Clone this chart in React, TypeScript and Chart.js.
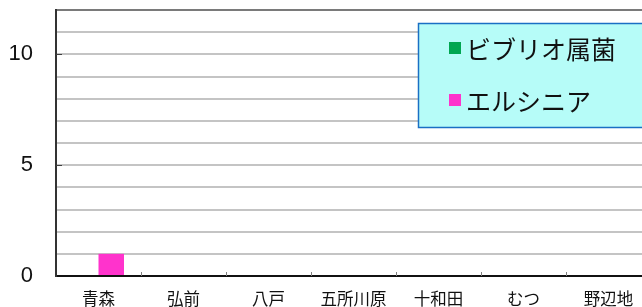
import React, { useEffect, useRef } from "react";
import { Chart, registerables } from "chart.js";

Chart.register(...registerables);

const categories = ["青森", "弘前", "八戸", "五所川原", "十和田", "むつ", "野辺地"];
const vibrio = [0, 0, 0, 0, 0, 0, 0];
const yersinia = [1, 0, 0, 0, 0, 0, 0];
const seriesNames = ["ビブリオ属菌", "エルシニア"];
const seriesColors = ["#00a651", "#ff33cc"];
const yMax = 12;
const yLabelStep = 5;

const JP_FONT = '"Noto Sans CJK JP", "Noto Sans", sans-serif';
const NUM_FONT = '"Liberation Sans", Arial, sans-serif';

const framePlugin = {
  id: "framePlugin",
  afterDatasetsDraw(chart: any) {
    const { ctx, chartArea, scales } = chart;
    const x = scales.x;
    const y = scales.y;
    ctx.save();
    ctx.strokeStyle = "#808080";
    ctx.lineWidth = 1;
    for (let i = 1; i < categories.length; i++) {
      const px = Math.round((x.getPixelForValue(i - 1) + x.getPixelForValue(i)) / 2) + 0.5;
      ctx.beginPath();
      ctx.moveTo(px, chartArea.bottom);
      ctx.lineTo(px, chartArea.bottom - 4);
      ctx.stroke();
    }
    ctx.strokeStyle = "#404040";
    ctx.lineWidth = 1;
    for (let v = yLabelStep; v < yMax; v += yLabelStep) {
      const py = Math.round(y.getPixelForValue(v)) + 0.5;
      ctx.beginPath();
      ctx.moveTo(chartArea.left, py);
      ctx.lineTo(chartArea.left + 6, py);
      ctx.stroke();
    }
    ctx.restore();
  },
  afterDraw(chart: any) {
    const { ctx } = chart;
    const ds = chart.data.datasets;
    ctx.save();
    const bx = 418.5, by = 23.5, bw = 300, bh = 104;
    ctx.fillStyle = "#b6fcf8";
    ctx.fillRect(bx, by, bw, bh);
    ctx.strokeStyle = "#1a6fc4";
    ctx.lineWidth = 1.5;
    ctx.strokeRect(bx, by, bw, bh);
    const rows = [48, 100];
    ds.forEach((d: any, i: number) => {
      const cy = rows[i];
      ctx.fillStyle = d.backgroundColor;
      ctx.fillRect(449, cy - 6, 12, 12);
      ctx.fillStyle = "#111";
      ctx.font = `25px ${JP_FONT}`;
      ctx.textBaseline = "middle";
      ctx.textAlign = "left";
      ctx.fillText(d.label, 466, cy + 1);
    });
    ctx.restore();
  },
};

export default function App() {
  const ref = useRef<HTMLCanvasElement>(null);
  useEffect(() => {
    if (!ref.current) return;
    const chart = new Chart(ref.current, {
      type: "bar",
      data: {
        labels: categories,
        datasets: [
          { label: seriesNames[0], data: vibrio, backgroundColor: seriesColors[0], borderWidth: 0 },
          { label: seriesNames[1], data: yersinia, backgroundColor: seriesColors[1], borderWidth: 0 },
        ],
      },
      options: {
        responsive: false,
        animation: false,
        devicePixelRatio: 1,
        layout: { padding: { top: 10, right: 49, left: 0, bottom: 0 } },
        plugins: { legend: { display: false }, tooltip: { enabled: false } },
        datasets: { bar: { categoryPercentage: 0.6, barPercentage: 1 } },
        scales: {
          x: {
            grid: { display: false, drawTicks: false },
            border: { display: true, color: "#111", width: 2 },
            ticks: {
              color: "#111",
              font: { family: JP_FONT, size: 16.5 },
              padding: 13,
              maxRotation: 0,
              autoSkip: false,
            },
            afterFit(scale: any) {
              scale.height = 31;
              scale.paddingLeft = 0;
              scale.paddingRight = 0;
            },
          },
          y: {
            min: 0,
            max: yMax,
            grid: {
              drawTicks: false,
              lineWidth: 2,
              color: (c: any) => (c.tick && c.tick.value === yMax ? "#7a7a7a" : "#c4c4c4"),
            },
            border: { display: true, color: "#333", width: 2 },
            ticks: {
              stepSize: 1,
              autoSkip: false,
              padding: 23,
              color: "#111",
              font: { family: NUM_FONT, size: 22 },
              callback: (v: any) => (Number(v) % yLabelStep === 0 ? String(v) : ""),
            },
            afterFit(scale: any) {
              scale.width = 56;
              scale.paddingTop = 0;
              scale.paddingBottom = 0;
            },
          },
        },
      },
      plugins: [framePlugin],
    });
    return () => chart.destroy();
  }, []);
  return (
    <div style={{ position: "fixed", left: 0, top: 0, width: 642, height: 307, overflow: "hidden", background: "#fff" }}>
      <canvas ref={ref} width={700} height={307} style={{ display: "block", width: 700, height: 307 }} />
    </div>
  );
}
